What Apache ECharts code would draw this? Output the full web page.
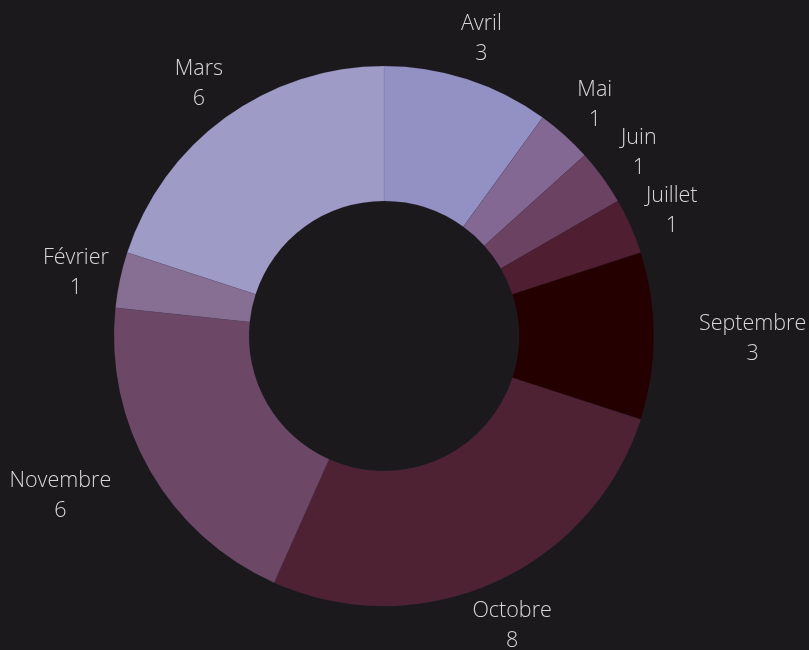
<!DOCTYPE html>
<html>
<head>
<meta charset="utf-8">
<script src="https://cdn.jsdelivr.net/npm/echarts@6/dist/echarts.min.js"></script>
<style>
  html, body { margin: 0; padding: 0; background: #1c191d; }
  #chart { width: 809px; height: 650px; }
</style>
</head>
<body>
<div id="chart"></div>
<script>
// data
var months = ['Avril', 'Mai', 'Juin', 'Juillet', 'Septembre', 'Octobre', 'Novembre', 'Février', 'Mars'];
var counts = [3, 1, 1, 1, 3, 8, 6, 1, 6];
var colors = ['#9390c4', '#836893', '#6b4262', '#4f1e30', '#250000', '#4e2233', '#6c4866', '#876f93', '#9e9bc6'];

var cx = 384, cy = 336, rOut = 270, rIn = 135;
var labelGap = 45;

var total = counts.reduce(function (a, b) { return a + b; }, 0);
var midAngles = [];
var acc = 0;
counts.forEach(function (v) {
  midAngles.push((acc + v / 2) / total * Math.PI * 2);
  acc += v;
});

var chart = echarts.init(document.getElementById('chart'));
var option = {
  backgroundColor: '#1c191d',
  animation: false,
  series: [{
    type: 'pie',
    center: [cx, cy],
    radius: [rIn, rOut],
    startAngle: 90,
    avoidLabelOverlap: false,
    itemStyle: {
      borderWidth: 0.5,
      borderColor: 'rgba(60,50,90,0.2)'
    },
    label: {
      show: true,
      position: 'outside',
      color: '#d8d8d8',
      fontFamily: 'Open Sans',
      fontWeight: 300,
      fontSize: 21.5,
      lineHeight: 30,
      formatter: '{t|{b}}\n{t|{c}}',
      rich: {
        t: {
          align: 'center',
          color: '#d8d8d8',
          fontFamily: 'Open Sans',
          fontWeight: 300,
          fontSize: 21.5,
          lineHeight: 30
        }
      }
    },
    labelLine: { show: false },
    labelLayout: function (params) {
      var a = midAngles[params.dataIndex];
      var dx = Math.sin(a), dy = -Math.cos(a);
      var ax = cx + dx * (rOut + labelGap);
      var ay = cy + dy * (rOut + labelGap);
      var w = params.labelRect.width, h = params.labelRect.height;
      // centred box, unless it would sit on the ring
      var nx = Math.min(Math.max(cx, ax - w / 2), ax + w / 2);
      var ny = Math.min(Math.max(cy, ay - h / 2), ay + h / 2);
      var d = Math.sqrt((nx - cx) * (nx - cx) + (ny - cy) * (ny - cy));
      var align = 'center';
      if (d < rOut) align = dx > 0 ? 'left' : 'right';
      return { x: ax, y: ay + 2.5, align: align, verticalAlign: 'middle' };
    },
    data: months.map(function (m, i) {
      return { name: m, value: counts[i], itemStyle: { color: colors[i] } };
    })
  }]
};
chart.setOption(option);
window.addEventListener('resize', function () { chart.resize(); });
</script>
</body>
</html>
